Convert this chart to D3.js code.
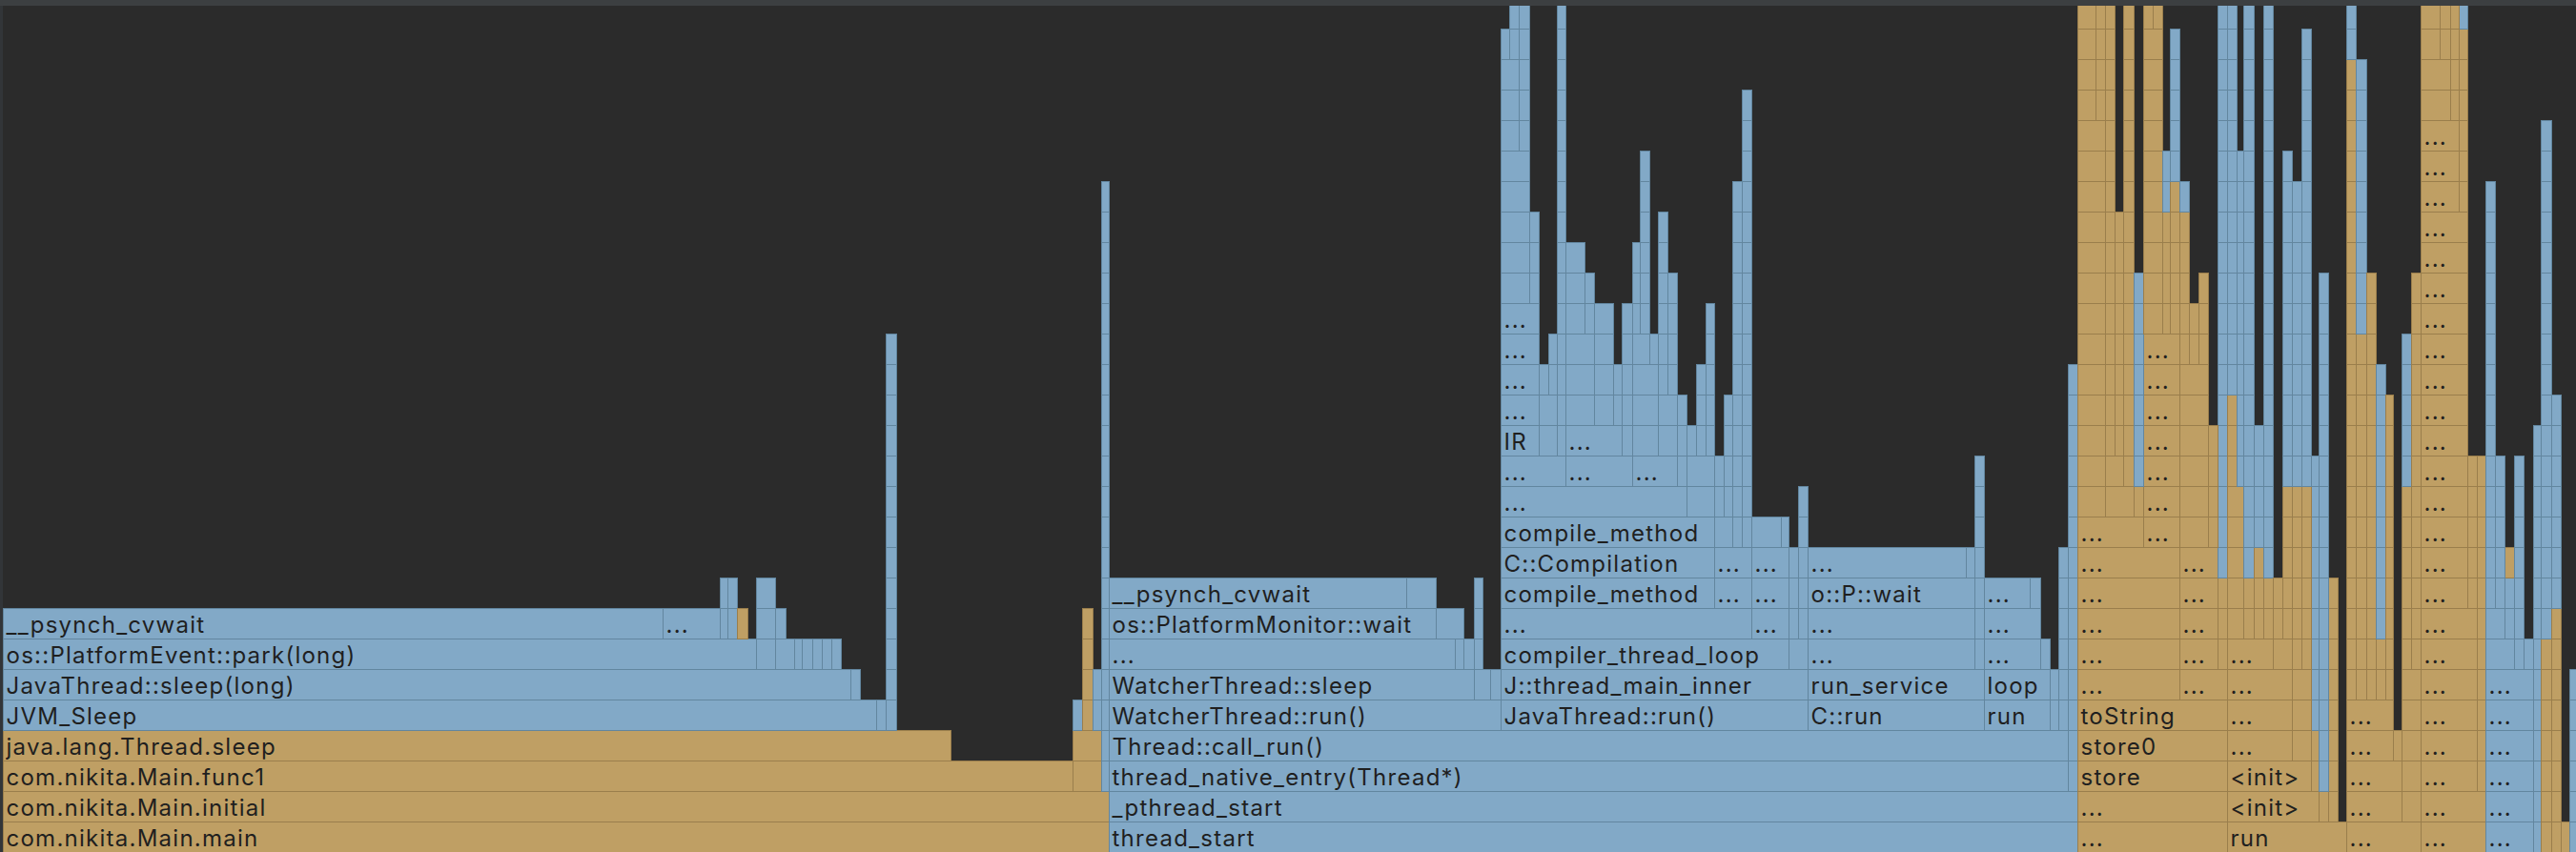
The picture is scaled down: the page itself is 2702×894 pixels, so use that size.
<!DOCTYPE html>
<html>
<head>
<meta charset="utf-8">
<script src="https://cdn.jsdelivr.net/npm/d3@7"></script>
<style>
html, body { margin: 0; padding: 0; background: #2b2b2b; overflow: hidden; }
svg { display: block; }
</style>
</head>
<body>
<svg id="chart" width="2702" height="894"></svg>
<script>
// Each frame: [startSample, endSample, fromDepth, toDepth, kind, label]
// kind: 'j' = Java frame (gold), 'n' = native frame (blue)
const mainThreadFrames = [
  [3, 1163.3, 0, 0, 'j', 'com.nikita.Main.main'],
  [3, 1163.3, 1, 1, 'j', 'com.nikita.Main.initial'],
  [3, 1125, 2, 2, 'j', 'com.nikita.Main.func1'],
  [1125, 1155.3, 2, 3, 'j'],
  [3, 997, 3, 3, 'j', 'java.lang.Thread.sleep'],
  [3, 919, 4, 4, 'n', 'JVM_Sleep'],
  [919, 929, 4, 4, 'n'],
  [929, 939.7, 4, 16, 'n'],
  [1125, 1135.3, 4, 4, 'n'],
  [1135.3, 1145.7, 4, 7, 'j'],
  [1145.7, 1155.3, 4, 5, 'n'],
  [3, 891.5, 5, 5, 'n', 'JavaThread::sleep(long)'],
  [891.5, 901.7, 5, 5, 'n'],
  [3, 793.3, 6, 6, 'n', 'os::PlatformEvent::park(long)'],
  [793.3, 813.3, 6, 8, 'n'],
  [813.3, 833.3, 6, 6, 'n'],
  [833.3, 841.3, 6, 6, 'n'],
  [841.3, 851.7, 6, 6, 'n'],
  [851.7, 861.7, 6, 6, 'n'],
  [861.7, 871.7, 6, 6, 'n'],
  [871.7, 881.7, 6, 6, 'n'],
  [3, 695, 7, 7, 'n', '__psynch_cvwait'],
  [695, 755.3, 7, 7, 'n', '...'],
  [755.3, 763.3, 7, 8, 'n'],
  [763.3, 773.3, 7, 8, 'n'],
  [773.3, 783.7, 7, 7, 'j'],
  [813.3, 823.7, 7, 7, 'n']
];

const watcherFrames = [
  [1163.3, 2179.3, 0, 0, 'n', 'thread_start'],
  [1163.3, 2179.3, 1, 1, 'n', '_pthread_start'],
  [1155.3, 1163.3, 2, 21, 'n'],
  [1163.3, 2169.3, 2, 2, 'n', 'thread_native_entry(Thread*)'],
  [1163.3, 2169.3, 3, 3, 'n', 'Thread::call_run()'],
  [2169.3, 2179.3, 2, 15, 'n'],
  [1163.3, 1573.6, 4, 4, 'n', 'WatcherThread::run()'],
  [1163.3, 1545.5, 5, 5, 'n', 'WatcherThread::sleep'],
  [1545.5, 1563, 5, 5, 'n'],
  [1563, 1573.6, 5, 5, 'n'],
  [1163.3, 1525.8, 6, 6, 'n', '...'],
  [1525.8, 1535, 6, 6, 'n'],
  [1535, 1545.5, 6, 6, 'n'],
  [1545.5, 1554.6, 6, 8, 'n'],
  [1163.3, 1505.5, 7, 7, 'n', 'os::PlatformMonitor::wait'],
  [1505.5, 1535, 7, 7, 'n'],
  [1163.3, 1475.3, 8, 8, 'n', '__psynch_cvwait'],
  [1475.3, 1505.5, 8, 8, 'n']
];

const compilerFrames = [
  [1573.6, 1895.5, 4, 4, 'n', 'JavaThread::run()'],
  [1573.6, 1895.5, 5, 5, 'n', 'J::thread_main_inner'],
  [1573.6, 1875.6, 6, 6, 'n', 'compiler_thread_loop'],
  [1875.6, 1895.5, 6, 6, 'n'],
  [1573.6, 1837.4, 7, 7, 'n', '...'],
  [1837.4, 1875.6, 7, 9, 'n', '...'],
  [1875.6, 1885.6, 7, 9, 'n'],
  [1885.6, 1895.5, 7, 11, 'n'],
  [1573.6, 1797.6, 8, 8, 'n', 'compile_method'],
  [1797.6, 1837.4, 8, 9, 'n', '...'],
  [1573.6, 1797.6, 9, 9, 'n', 'C::Compilation'],
  [1573.6, 1797.6, 10, 10, 'n', 'compile_method'],
  [1797.6, 1817.1, 10, 10, 'n'],
  [1817.1, 1827.4, 10, 21, 'n'],
  [1827.4, 1837.4, 10, 24, 'n'],
  [1837.4, 1867.6, 10, 10, 'n'],
  [1867.6, 1875.6, 10, 10, 'n'],
  [1573.6, 1769.3, 11, 11, 'n', '...'],
  [1769.3, 1797.6, 11, 12, 'n'],
  [1797.6, 1807.5, 11, 12, 'n'],
  [1807.5, 1817.1, 11, 14, 'n'],
  [1573.6, 1641.5, 12, 12, 'n', '...'],
  [1641.5, 1711.5, 12, 12, 'n', '...'],
  [1711.5, 1759.3, 12, 12, 'n', '...'],
  [1759.3, 1769.3, 12, 14, 'n'],
  [1573.6, 1613.5, 13, 13, 'n', 'IR'],
  [1573.6, 1613.5, 14, 17, 'n', '...'],
  [1613.5, 1633.4, 13, 14, 'n'],
  [1613.5, 1623.5, 15, 15, 'n'],
  [1623.5, 1633.4, 15, 16, 'n'],
  [1633.4, 1641.5, 13, 27, 'n'],
  [1641.5, 1701.5, 13, 13, 'n', '...'],
  [1641.5, 1671.7, 14, 16, 'n'],
  [1641.5, 1661.7, 17, 19, 'n'],
  [1661.7, 1671.7, 17, 18, 'n'],
  [1671.7, 1691.6, 14, 17, 'n'],
  [1691.6, 1701.5, 14, 15, 'n'],
  [1701.5, 1711.5, 13, 17, 'n'],
  [1711.5, 1739.4, 13, 15, 'n'],
  [1711.5, 1729.5, 16, 16, 'n'],
  [1711.5, 1719.5, 17, 19, 'n'],
  [1719.5, 1729.5, 17, 22, 'n'],
  [1729.5, 1739.4, 16, 16, 'n'],
  [1739.4, 1759.3, 13, 14, 'n'],
  [1739.4, 1749.4, 15, 20, 'n'],
  [1749.4, 1759.3, 15, 18, 'n'],
  [1769.3, 1779.2, 13, 13, 'n'],
  [1779.2, 1789.2, 13, 15, 'n'],
  [1789.2, 1797.6, 13, 17, 'n'],
  [1573.6, 1603.6, 18, 22, 'n'],
  [1603.6, 1613.5, 18, 20, 'n'],
  [1573.6, 1593.2, 23, 25, 'n'],
  [1593.2, 1603.6, 23, 27, 'n'],
  [1573.6, 1583.3, 26, 26, 'n'],
  [1583.3, 1593.2, 26, 27, 'n']
];

const serviceFrames = [
  [1895.5, 2081.2, 4, 4, 'n', 'C::run'],
  [1895.5, 2081.2, 5, 5, 'n', 'run_service'],
  [2081.2, 2149.5, 4, 4, 'n', 'run'],
  [2081.2, 2149.5, 5, 5, 'n', 'loop'],
  [2149.5, 2159.4, 4, 5, 'n'],
  [2159.4, 2169.3, 4, 9, 'n'],
  [1895.5, 2071.2, 6, 7, 'n', '...'],
  [2071.2, 2081.2, 6, 12, 'n'],
  [2081.2, 2139.5, 6, 7, 'n', '...'],
  [2139.5, 2149.5, 6, 6, 'n'],
  [1895.5, 2071.2, 8, 8, 'n', 'o::P::wait'],
  [2081.2, 2129.3, 8, 8, 'n', '...'],
  [2129.3, 2139.5, 8, 8, 'n'],
  [1895.5, 2061.6, 9, 9, 'n', '...'],
  [2061.6, 2071.2, 9, 9, 'n']
];

const storeFrames = [
  [2179.3, 2335.5, 0, 1, 'j', '...'],
  [2179.3, 2335.5, 2, 2, 'j', 'store'],
  [2179.3, 2335.5, 3, 3, 'j', 'store0'],
  [2179.3, 2335.5, 4, 4, 'j', 'toString'],
  [2179.3, 2285.6, 5, 9, 'j', '...'],
  [2285.6, 2335.5, 5, 5, 'j', '...'],
  [2285.6, 2325.5, 6, 9, 'j', '...'],
  [2325.5, 2335.5, 6, 8, 'j'],
  [2325.5, 2335.5, 9, 27, 'n'],
  [2179.3, 2247.6, 10, 10, 'j', '...'],
  [2247.6, 2285.6, 10, 16, 'j', '...'],
  [2285.6, 2315.7, 10, 15, 'j'],
  [2315.7, 2325.5, 10, 13, 'j'],
  [2179.3, 2207.5, 11, 23, 'j'],
  [2179.3, 2197.6, 24, 27, 'j'],
  [2197.6, 2207.5, 24, 27, 'j'],
  [2207.5, 2237.7, 11, 11, 'j'],
  [2207.5, 2227.4, 12, 12, 'j'],
  [2227.4, 2237.7, 12, 27, 'j'],
  [2207.5, 2217.6, 13, 27, 'j'],
  [2217.6, 2227.4, 13, 20, 'j'],
  [2237.7, 2247.6, 11, 11, 'j'],
  [2237.7, 2247.6, 12, 18, 'n'],
  [2247.6, 2267.6, 17, 26, 'j'],
  [2247.6, 2257.5, 27, 27, 'j'],
  [2257.5, 2267.6, 27, 27, 'j'],
  [2267.6, 2275.5, 17, 20, 'j'],
  [2267.6, 2275.5, 21, 22, 'n'],
  [2275.5, 2285.6, 17, 21, 'j'],
  [2275.5, 2285.6, 22, 26, 'n'],
  [2285.6, 2295.7, 16, 20, 'j'],
  [2285.6, 2295.7, 21, 21, 'n'],
  [2295.7, 2305.5, 16, 17, 'j'],
  [2305.5, 2315.7, 16, 18, 'j']
];

const runFrames = [
  [2335.5, 2461.2, 0, 0, 'j', 'run'],
  [2335.5, 2431.5, 1, 1, 'j', '<init>'],
  [2431.5, 2441.6, 1, 1, 'j'],
  [2441.6, 2451.5, 1, 8, 'j'],
  [2335.5, 2423.5, 2, 2, 'j', '<init>'],
  [2423.5, 2431.5, 2, 3, 'j'],
  [2423.5, 2431.5, 4, 12, 'n'],
  [2431.5, 2441.6, 2, 18, 'n'],
  [2335.5, 2403.5, 3, 5, 'j', '...'],
  [2403.5, 2423.5, 3, 5, 'j'],
  [2335.5, 2383.7, 6, 6, 'j', '...'],
  [2383.7, 2403.5, 6, 6, 'j'],
  [2403.5, 2413.5, 6, 11, 'j'],
  [2413.5, 2423.5, 6, 11, 'j'],
  [2403.5, 2413.5, 12, 21, 'n'],
  [2413.5, 2423.5, 12, 26, 'n'],
  [2335.5, 2353.4, 7, 11, 'j'],
  [2335.5, 2345.5, 12, 14, 'j'],
  [2335.5, 2345.5, 15, 27, 'n'],
  [2345.5, 2353.4, 12, 22, 'n'],
  [2353.4, 2363.5, 7, 8, 'j'],
  [2353.4, 2363.5, 9, 27, 'n'],
  [2363.5, 2373.5, 7, 9, 'j'],
  [2363.5, 2373.5, 10, 13, 'n'],
  [2373.5, 2383.7, 7, 8, 'j'],
  [2373.5, 2383.7, 9, 27, 'n'],
  [2383.7, 2393.5, 7, 8, 'j'],
  [2393.5, 2403.5, 7, 11, 'j'],
  [2393.5, 2403.5, 12, 22, 'n']
];

const workerFrames = [
  [2461.2, 2539.3, 0, 0, 'j', '...'],
  [2461.2, 2519.1, 1, 2, 'j', '...'],
  [2519.1, 2539.3, 1, 5, 'j'],
  [2461.2, 2509.7, 3, 4, 'j', '...'],
  [2509.7, 2519.1, 3, 3, 'j'],
  [2461.2, 2471.3, 5, 25, 'j'],
  [2461.2, 2471.3, 26, 27, 'n'],
  [2471.3, 2481.5, 5, 16, 'j'],
  [2471.3, 2481.5, 17, 25, 'n'],
  [2481.5, 2491.6, 5, 18, 'j'],
  [2491.6, 2501.7, 5, 6, 'j'],
  [2491.6, 2501.7, 7, 15, 'n'],
  [2501.7, 2509.7, 5, 14, 'j'],
  [2519.1, 2529.2, 6, 11, 'j'],
  [2519.1, 2529.2, 12, 16, 'n'],
  [2529.2, 2539.3, 6, 18, 'j']
];

const deepFrames = [
  [2539.3, 2607.3, 0, 1, 'j', '...'],
  [2539.3, 2597.6, 2, 7, 'j', '...'],
  [2597.6, 2607.3, 2, 12, 'j'],
  [2539.3, 2587.7, 8, 20, 'j', '...'],
  [2587.7, 2597.6, 8, 12, 'j'],
  [2539.3, 2579.4, 21, 23, 'j', '...'],
  [2579.4, 2587.7, 21, 26, 'j'],
  [2579.4, 2587.7, 27, 27, 'n'],
  [2539.3, 2569.5, 24, 25, 'j'],
  [2539.3, 2559.4, 26, 27, 'j'],
  [2559.4, 2569.5, 26, 27, 'j'],
  [2569.5, 2579.4, 24, 27, 'j']
];

const tailFrames = [
  [2607.3, 2657.3, 0, 5, 'n', '...'],
  [2607.3, 2637.3, 6, 6, 'n'],
  [2637.3, 2647.4, 6, 6, 'n'],
  [2647.4, 2657.3, 6, 6, 'n'],
  [2607.3, 2627.4, 7, 7, 'n'],
  [2627.4, 2637.3, 7, 8, 'n'],
  [2627.4, 2637.3, 9, 9, 'j'],
  [2637.3, 2647.4, 7, 12, 'n'],
  [2607.3, 2617.4, 8, 21, 'n'],
  [2617.4, 2627.4, 8, 12, 'n'],
  [2657.3, 2665.4, 0, 13, 'n'],
  [2665.4, 2675.5, 0, 6, 'j'],
  [2665.4, 2675.5, 7, 23, 'n'],
  [2675.5, 2685.7, 0, 7, 'j'],
  [2675.5, 2685.7, 8, 14, 'n'],
  [2685.7, 2695.3, 0, 0, 'j'],
  [2695.3, 2702, 0, 5, 'n']
];

const TOTAL_SAMPLES = 2702;
const MAX_DEPTH = 28;

const W = 2702, H = 894;
const COLORS = {
  j: { fill: '#bf9f64', stroke: '#9a7e4c' },
  n: { fill: '#82a9c7', stroke: '#62869f' }
};

const x = d3.scaleLinear().domain([0, TOTAL_SAMPLES]).range([0, W]);
const y = d3.scaleLinear().domain([0, MAX_DEPTH]).range([H, H - 32 * MAX_DEPTH]);

const allGroups = [mainThreadFrames, watcherFrames, compilerFrames, serviceFrames,
  storeFrames, runFrames, workerFrames, deepFrames, tailFrames];

const cells = [];
allGroups.forEach(group => group.forEach(f => {
  for (let lv = f[2]; lv <= f[3]; lv++) {
    cells.push({ x0: f[0], x1: f[1], level: lv, kind: f[4], label: f[5] || '' });
  }
}));

const svg = d3.select('#chart');
svg.append('rect').attr('width', W).attr('height', H).attr('fill', '#2b2b2b');

const g = svg.append('g');
const rowH = y(0) - y(1);

g.selectAll('rect.frame').data(cells).join('rect')
  .attr('class', 'frame')
  .attr('x', d => Math.round(x(d.x0)) + 0.5)
  .attr('y', d => Math.round(y(d.level + 1)) + 0.5)
  .attr('width', d => Math.max(1, Math.round(x(d.x1)) - Math.round(x(d.x0))))
  .attr('height', rowH)
  .attr('fill', d => COLORS[d.kind].fill)
  .attr('stroke', d => COLORS[d.kind].stroke)
  .attr('stroke-width', 1);

const FONT_SIZE = 24;
const textG = svg.append('g')
  .attr('font-family', 'Inter, "Noto Sans", sans-serif')
  .attr('font-size', FONT_SIZE)
  .attr('fill', '#1f1f1f');

// calibrate letter spacing on the widest-known label
const probe = textG.append('text').text('com.nikita.Main.main');
const w0 = probe.node().getComputedTextLength();
probe.remove();
const ls = Math.max(0, Math.min(3, (265 - w0) / 20));

textG.selectAll('text').data(cells.filter(d => d.label)).join('text')
  .attr('x', d => Math.round(x(d.x0)) + 3.5)
  .attr('y', d => y(d.level) - 6.5)
  .attr('letter-spacing', ls)
  .text(d => d.label);

// top header strip and left gutter
svg.append('rect').attr('x', 0).attr('y', 0).attr('width', W).attr('height', 6).attr('fill', '#3c3f41');
svg.append('rect').attr('x', 0).attr('y', 6).attr('width', 3).attr('height', H - 6).attr('fill', '#323538');
</script>
</body>
</html>
